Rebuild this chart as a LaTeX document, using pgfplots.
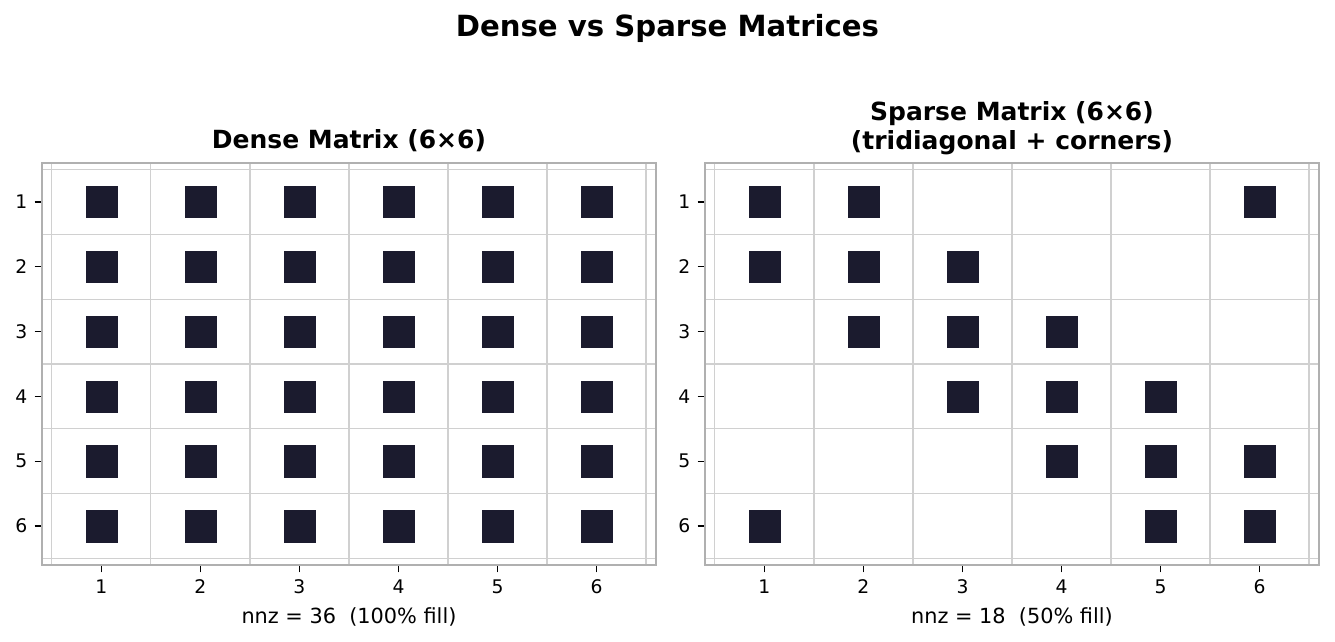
\documentclass[border=0pt]{standalone}
\usepackage{fontspec}
\setmainfont{DejaVu Sans}
\usepackage{pgfplots}
\pgfplotsset{compat=1.18}
\definecolor{cell}{RGB}{27,27,46}
\definecolor{gridc}{RGB}{208,208,208}
\definecolor{spinec}{RGB}{176,176,176}
\pgfplotsset{matstyle/.style={
  scale only axis, width=294.7pt, height=192.96pt,
  xmin=0.4, xmax=6.6, ymin=0.4, ymax=6.6, y dir=reverse,
  xtick={1,...,6}, ytick={1,...,6},
  minor xtick={0.5,1.5,...,6.5}, minor ytick={0.5,1.5,...,6.5},
  xminorgrids, yminorgrids,
  minor grid style={gridc, line width=0.55pt},
  major tick length=3.5pt, minor tick length=0pt,
  tick align=outside, tick pos=left,
  axis line style={spinec, line width=0.8pt},
  major tick style={black, line width=0.6pt},
  tick label style={font=\fontsize{9}{10}\selectfont},
  /pgf/number format/assume math mode=true,
  xlabel style={font=\fontsize{10}{12}\selectfont},
  title style={font=\bfseries\fontsize{12}{14}\selectfont, align=center},
  clip=false,
}}
\begin{document}
\begin{tikzpicture}
\useasboundingbox (0,0) rectangle (640.8pt,-308.16pt);
\node[font=\bfseries\fontsize{14}{16}\selectfont] at (320.4pt,-13.44pt) {Dense vs Sparse Matrices};
\begin{axis}[matstyle, at={(20.16pt,-78.24pt)}, anchor=north west,
  title style={yshift=-4pt},
  title={Dense Matrix (6×6)}, xlabel={nnz = 36\ \ (100\% fill)}]
\addplot[only marks, mark=square*, mark size=7.5pt, mark options={fill=cell, draw=cell, line width=0.2pt, rounded corners=1.5pt}] coordinates {
(1,1)(2,1)(3,1)(4,1)(5,1)(6,1)
(1,2)(2,2)(3,2)(4,2)(5,2)(6,2)
(1,3)(2,3)(3,3)(4,3)(5,3)(6,3)
(1,4)(2,4)(3,4)(4,4)(5,4)(6,4)
(1,5)(2,5)(3,5)(4,5)(5,5)(6,5)
(1,6)(2,6)(3,6)(4,6)(5,6)(6,6)
};
\end{axis}
\begin{axis}[matstyle, at={(338.4pt,-78.24pt)}, anchor=north west,
  title style={yshift=-5.5pt},
  title={Sparse Matrix (6×6)\\(tridiagonal + corners)}, xlabel={nnz = 18\ \ (50\% fill)}]
\addplot[only marks, mark=square*, mark size=7.5pt, mark options={fill=cell, draw=cell, line width=0.2pt, rounded corners=1.5pt}] coordinates {
(1,1)(2,1)(6,1)
(1,2)(2,2)(3,2)
(2,3)(3,3)(4,3)
(3,4)(4,4)(5,4)
(4,5)(5,5)(6,5)
(1,6)(5,6)(6,6)
};
\end{axis}
\end{tikzpicture}
\end{document}
